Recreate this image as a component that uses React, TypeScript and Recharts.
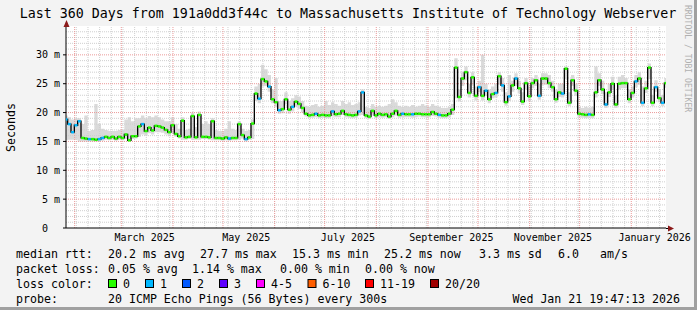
import React from 'react';
import { ComposedChart, Area, Line, XAxis, YAxis, ReferenceLine, CartesianGrid } from 'recharts';

// ---------- data ----------
const START = Date.UTC(2025, 0, 26, 19, 47, 13);
const DAY = 86400000;
const STEP_DAYS = 2;

const median = [
  18.8, 18.0, 16.6, 17.8, 18.5, 15.6, 15.5, 15.4, 15.4, 15.3,
  15.4, 15.6, 15.8, 15.6, 15.8, 15.5, 15.8, 15.6, 16.2, 15.2,
  15.9, 15.9, 17.6, 18.0, 16.8, 17.4, 16.9, 17.7, 17.6, 17.4,
  17.0, 16.6, 17.8, 16.3, 15.9, 18.6, 15.7, 15.8, 19.4, 15.7,
  19.6, 15.8, 15.8, 15.7, 18.5, 15.6, 15.6, 15.5, 15.7, 15.5,
  15.6, 15.6, 18.0, 16.1, 15.4, 15.7, 18.1, 23.3, 22.4, 25.8,
  25.4, 24.5, 22.3, 21.8, 20.4, 20.6, 22.3, 20.5, 21.0, 21.9,
  21.5, 20.8, 19.8, 19.5, 19.6, 19.8, 19.5, 19.6, 19.5, 19.5,
  20.2, 19.7, 19.8, 20.3, 19.7, 19.6, 19.5, 19.6, 20.2, 23.5,
  19.5, 19.3, 20.3, 19.5, 19.8, 19.6, 19.7, 19.3, 19.8, 20.3,
  19.6, 19.8, 19.7, 19.7, 19.7, 19.8, 19.8, 19.7, 19.7, 19.7,
  20.1, 19.8, 19.6, 19.5, 19.5, 19.8, 20.5, 27.8, 22.7, 25.9,
  27.0, 23.4, 26.1, 22.9, 24.4, 22.9, 23.8, 22.3, 23.2, 23.4,
  26.3, 24.7, 21.8, 22.8, 24.7, 25.9, 24.2, 21.9, 25.1, 22.8,
  25.1, 25.6, 22.9, 25.9, 25.9, 25.1, 24.4, 22.3, 23.5, 23.3,
  27.6, 21.7, 25.6, 23.8, 19.8, 19.7, 19.6, 19.7, 19.6, 23.5,
  25.6, 24.0, 21.4, 23.5, 25.0, 21.4, 25.0, 25.1, 25.1, 22.3,
  23.4, 25.4, 25.9, 21.7, 24.2, 27.8, 21.7, 24.4, 22.5, 21.7,
  25.1,
];

const lossCount = [
  1, 1, 1, 1, 1, 0, 0, 1, 0, 0,
  1, 1, 0, 0, 0, 0, 0, 0, 0, 0,
  0, 0, 0, 1, 0, 0, 0, 0, 0, 0,
  0, 0, 0, 0, 0, 0, 0, 0, 0, 0,
  0, 0, 0, 0, 0, 0, 0, 0, 0, 1,
  0, 0, 0, 0, 1, 0, 0, 0, 1, 0,
  0, 1, 0, 0, 1, 0, 0, 0, 1, 0,
  0, 0, 0, 0, 0, 1, 0, 0, 0, 0,
  1, 0, 0, 0, 0, 0, 0, 0, 1, 1,
  0, 0, 0, 0, 0, 0, 0, 0, 0, 0,
  0, 1, 0, 0, 1, 0, 0, 0, 0, 0,
  0, 0, 1, 0, 0, 0, 0, 0, 0, 0,
  0, 0, 0, 0, 1, 0, 1, 0, 0, 1,
  0, 1, 0, 1, 0, 1, 0, 0, 0, 0,
  0, 0, 1, 0, 0, 0, 0, 0, 0, 1,
  0, 0, 0, 0, 0, 0, 0, 1, 0, 0,
  0, 0, 1, 0, 0, 0, 0, 0, 0, 0,
  0, 1, 0, 1, 0, 0, 0, 1, 0, 1,
  0,
];

const smokeLow = [
  15.2, 15.3, 15.3, 15.3, 15.0, 15.0, 15.0, 15.0, 15.0, 15.0,
  15.0, 15.1, 15.3, 15.2, 15.3, 15.1, 15.3, 15.2, 15.4, 15.0,
  15.4, 15.5, 15.8, 16.2, 16.0, 16.4, 16.2, 16.6, 16.6, 16.5,
  16.2, 15.9, 16.4, 15.8, 15.5, 15.3, 15.3, 15.4, 15.3, 15.3,
  15.3, 15.4, 15.4, 15.3, 15.2, 15.2, 15.2, 15.1, 15.2, 15.1,
  15.2, 15.2, 15.3, 15.5, 15.0, 15.3, 15.4, 22.0, 21.6, 24.5,
  24.6, 23.6, 21.6, 21.0, 19.8, 19.9, 21.4, 19.8, 20.2, 21.0,
  20.6, 20.0, 19.3, 19.0, 19.1, 19.2, 19.0, 19.1, 19.0, 19.0,
  19.3, 19.2, 19.2, 19.6, 19.2, 19.1, 19.0, 19.1, 19.5, 19.6,
  19.0, 18.9, 19.5, 19.0, 19.2, 19.1, 19.2, 18.9, 19.2, 19.5,
  19.1, 19.2, 19.2, 19.2, 19.1, 19.2, 19.3, 19.2, 19.2, 19.2,
  19.4, 19.3, 19.1, 19.0, 19.0, 19.2, 19.6, 22.5, 21.9, 24.6,
  25.6, 22.6, 24.8, 22.1, 23.5, 22.1, 22.9, 21.6, 22.5, 22.6,
  24.8, 23.6, 21.2, 22.0, 23.6, 24.6, 23.3, 21.3, 24.0, 22.0,
  24.2, 24.6, 22.2, 24.8, 24.8, 24.2, 23.6, 21.7, 22.7, 22.6,
  25.8, 21.1, 24.6, 22.9, 19.2, 19.1, 19.0, 19.1, 19.0, 22.6,
  24.6, 23.2, 20.8, 22.7, 24.0, 20.8, 24.0, 24.2, 24.2, 21.6,
  22.6, 24.4, 24.8, 21.1, 23.4, 25.8, 21.1, 23.6, 21.8, 21.1,
  24.3,
];

const smokeHigh = [
  19.5, 19.2, 18.8, 19.0, 19.0, 18.0, 19.5, 16.8, 17.0, 21.5,
  18.0, 17.2, 17.0, 16.8, 16.8, 16.8, 17.0, 17.0, 18.8, 19.2,
  18.5, 19.0, 19.0, 19.5, 19.0, 19.4, 19.2, 19.5, 19.2, 18.8,
  18.5, 18.5, 19.2, 18.0, 17.2, 19.2, 17.0, 17.2, 20.0, 17.5,
  20.2, 18.0, 18.5, 18.0, 19.0, 17.0, 16.8, 16.8, 17.2, 18.5,
  17.2, 17.0, 18.5, 17.2, 16.8, 17.0, 18.8, 24.5, 25.0, 28.3,
  27.5, 26.5, 24.0, 26.0, 22.0, 22.0, 23.5, 22.0, 22.5, 23.0,
  22.8, 22.0, 21.2, 21.0, 21.3, 21.5, 21.0, 21.2, 22.0, 21.3,
  21.8, 21.5, 21.2, 22.0, 21.5, 21.8, 21.3, 21.5, 21.8, 24.0,
  21.0, 20.8, 21.5, 21.0, 21.2, 21.0, 21.2, 21.5, 22.3, 21.8,
  21.2, 21.0, 21.2, 21.0, 21.3, 21.0, 21.2, 21.5, 21.2, 21.0,
  21.5, 21.2, 21.0, 20.8, 20.8, 21.0, 21.5, 29.4, 24.0, 27.0,
  28.0, 25.0, 27.0, 24.5, 25.5, 30.0, 25.0, 24.0, 24.5, 25.0,
  27.0, 26.0, 23.5, 26.5, 25.5, 26.8, 25.5, 23.5, 26.0, 24.5,
  26.0, 26.5, 25.0, 26.8, 26.8, 26.5, 25.5, 24.0, 25.0, 25.0,
  28.0, 23.5, 26.5, 25.0, 21.0, 20.8, 21.0, 20.8, 21.0, 28.0,
  26.8, 25.5, 23.5, 25.0, 26.2, 23.0, 26.2, 26.5, 26.0, 24.0,
  24.5, 26.5, 27.0, 24.5, 25.5, 28.5, 23.0, 25.6, 24.0, 23.0,
  26.0,
];

const monthStarts = [
  '2025-02-01', '2025-03-01', '2025-04-01', '2025-05-01', '2025-06-01', '2025-07-01',
  '2025-08-01', '2025-09-01', '2025-10-01', '2025-11-01', '2025-12-01', '2026-01-01',
];
const firstSunday = '2025-02-02';
const labelDates = ['2025-03-15', '2025-05-15', '2025-07-15', '2025-09-15', '2025-11-15', '2026-01-15'];
const labelNames = ['March 2025', 'May 2025', 'July 2025', 'September 2025', 'November 2025', 'January 2026'];
const yTicks = [0, 5, 10, 15, 20, 25, 30];
const yMinor = [1, 2, 3, 4, 6, 7, 8, 9, 11, 12, 13, 14, 16, 17, 18, 19, 21, 22, 23, 24, 26, 27, 28, 29, 31, 32, 33, 34];

const title = 'Last 360 Days from 191a0dd3f44c to Massachusetts Institute of Technology Webserver';
const rttStats = ['20.2 ms avg', '27.7 ms max', '15.3 ms min', '25.2 ms now', '3.3 ms sd', '6.0', 'am/s'];
const lossStats = ['0.05 % avg', '1.14 % max', '0.00 % min', '0.00 % now'];
const lossLabels = ['0', '1', '2', '3', '4-5', '6-10', '11-19', '20/20'];
const lossColors = ['#26ff00', '#00b8ff', '#0059ff', '#5e00ff', '#ff00ff', '#ff5e00', '#ff0000', '#a00000'];
const probeText = '20 ICMP Echo Pings (56 Bytes) every 300s';
const dateText = 'Wed Jan 21 19:47:13 2026';

// ---------- helpers ----------
const dayOf = (s: string) => (Date.parse(s + 'T00:00:00Z') - START) / DAY;
const monthDays = monthStarts.map(dayOf);
const labelDays = labelDates.map(dayOf);
const weekDays: number[] = [];
for (let d = dayOf(firstSunday); d < 360; d += 7) weekDays.push(d);

const data = median.map((m, i) => ({
  day: i * STEP_DAYS,
  median: m,
  loss: lossCount[i],
  smoke: [smokeLow[i], smokeHigh[i]],
}));

const FONT = '"DejaVu Sans Mono", monospace';

const LossMark = (props: any) => {
  const { cx, cy, payload, index } = props;
  if (cx == null || cy == null) return <g key={`e${index}`} />;
  const w = 3.0;
  return <rect key={`m${index}`} x={cx - w / 2} y={cy - 1.25} width={w} height={2.5} fill={lossColors[payload.loss]} />;
};

const YTick = (props: any) => {
  const { y, payload } = props;
  return (
    <g>
      <text x={48} y={y + 3.5} textAnchor="end" fontSize={10} fontFamily={FONT} fill="#000">{payload.value}</text>
      {payload.value !== 0 && (
        <text x={54} y={y + 3.5} textAnchor="start" fontSize={10} fontFamily={FONT} fill="#000">m</text>
      )}
    </g>
  );
};

export default function App() {
  const legendX = [108, 200, 292, 384, 479, 558, 600];
  const lossX = [108, 192, 280, 365];
  const boxX = [108, 145, 182, 219, 256, 307.5, 365, 430];
  const row = [258, 273, 288, 303];
  return (
    <div style={{ position: 'absolute', left: 0, top: 0, width: 697, height: 310, background: '#f3f3f3', overflow: 'hidden' }}>
      <ComposedChart width={697} height={310} data={data} margin={{ top: 26, right: 31, bottom: 62, left: 0 }}>
        <CartesianGrid fill="#ffffff" horizontal={false} vertical={false} stroke="none" />
        {yMinor.map((v) => (
          <ReferenceLine key={`hy${v}`} y={v} stroke="#cfcfcf" strokeDasharray="1 1" />
        ))}
        {weekDays.map((v) => (
          <ReferenceLine key={`vw${v}`} x={v} stroke="#cfcfcf" strokeDasharray="1 1" />
        ))}
        {yTicks.filter((v) => v > 0).map((v) => (
          <ReferenceLine key={`hY${v}`} y={v} stroke="#eb9a9a" strokeDasharray="1 1" />
        ))}
        {monthDays.map((v) => (
          <ReferenceLine key={`vm${v}`} x={v} stroke="#eb9a9a" strokeDasharray="1 1" />
        ))}
        <XAxis
          type="number"
          dataKey="day"
          domain={[0, 360]}
          ticks={labelDays}
          tickFormatter={(v: number) => labelNames[labelDays.indexOf(v)] ?? ''}
          axisLine={{ stroke: '#000' }}
          tickLine={false}
          tickSize={4}
          tickMargin={2}
          height={20}
          interval={0}
          tick={{ fontSize: 10, fontFamily: FONT, fill: '#000' }}
          allowDataOverflow
        />
        <YAxis
          type="number"
          domain={[0, 35]}
          ticks={yTicks}
          width={66}
          axisLine={{ stroke: '#000' }}
          tickLine={{ stroke: '#000' }}
          tickSize={3}
          interval={0}
          tick={<YTick />}
          allowDataOverflow
        />
        <Area
          type="step"
          dataKey="smoke"
          stroke="none"
          fill="#dadada"
          fillOpacity={1}
          isAnimationActive={false}
          dot={false}
          activeDot={false}
        />
        <Line
          type="step"
          dataKey="median"
          stroke="#000"
          strokeWidth={1.3}
          dot={false}
          activeDot={false}
          isAnimationActive={false}
        />
        <Line
          type="step"
          dataKey="median"
          stroke="none"
          dot={LossMark}
          activeDot={false}
          isAnimationActive={false}
        />
      </ComposedChart>
      <svg width={697} height={310} style={{ position: 'absolute', left: 0, top: 0, pointerEvents: 'none' }}>
        <text x={348} y={18} textAnchor="middle" fontSize={13.3} fontFamily={FONT} fill="#000">{title}</text>
        <text x={15} y={127.5} textAnchor="middle" fontSize={11.6} fontFamily={FONT} fill="#000" transform="rotate(-90 15 127.5)">Seconds</text>
        <text x={685} y={5} textAnchor="start" fontSize={8.1} fontFamily={FONT} fill="#b0b0b0" transform="rotate(90 685 5)">RRDTOOL / TOBI OETIKER</text>
        <line x1={66.5} y1={26} x2={66.5} y2={24} stroke="#000" />
        <polygon points="63.5,27 69.5,27 66.5,20" fill="#8b1a1a" />
        <line x1={666} y1={228.5} x2={670} y2={228.5} stroke="#000" />
        <polygon points="668,225.5 668,231.5 674,228.5" fill="#8b1a1a" />
        <text x={16} y={row[0]} fontSize={11.6} fontFamily={FONT}>median rtt:</text>
        {rttStats.map((s, i) => (
          <text key={`r${i}`} x={legendX[i]} y={row[0]} fontSize={11.6} fontFamily={FONT}>{s}</text>
        ))}
        <text x={16} y={row[1]} fontSize={11.6} fontFamily={FONT}>packet loss:</text>
        {lossStats.map((s, i) => (
          <text key={`l${i}`} x={lossX[i]} y={row[1]} fontSize={11.6} fontFamily={FONT}>{s}</text>
        ))}
        <text x={16} y={row[2]} fontSize={11.6} fontFamily={FONT}>loss color:</text>
        {lossLabels.map((s, i) => (
          <g key={`c${i}`}>
            <rect x={boxX[i] + 0.5} y={row[2] - 8.5} width={8} height={8} fill={lossColors[i]} stroke="#000" strokeWidth={1} />
            <text x={boxX[i] + 15} y={row[2]} fontSize={11.6} fontFamily={FONT}>{s}</text>
          </g>
        ))}
        <text x={16} y={row[3]} fontSize={11.6} fontFamily={FONT}>probe:</text>
        <text x={108} y={row[3]} fontSize={11.6} fontFamily={FONT}>{probeText}</text>
        <text x={680} y={row[3]} textAnchor="end" fontSize={11.6} fontFamily={FONT}>{dateText}</text>
        <rect x={694} y={0} width={3} height={310} fill="#a0a0a0" />
        <rect x={0} y={307} width={697} height={3} fill="#a0a0a0" />
      </svg>
    </div>
  );
}
